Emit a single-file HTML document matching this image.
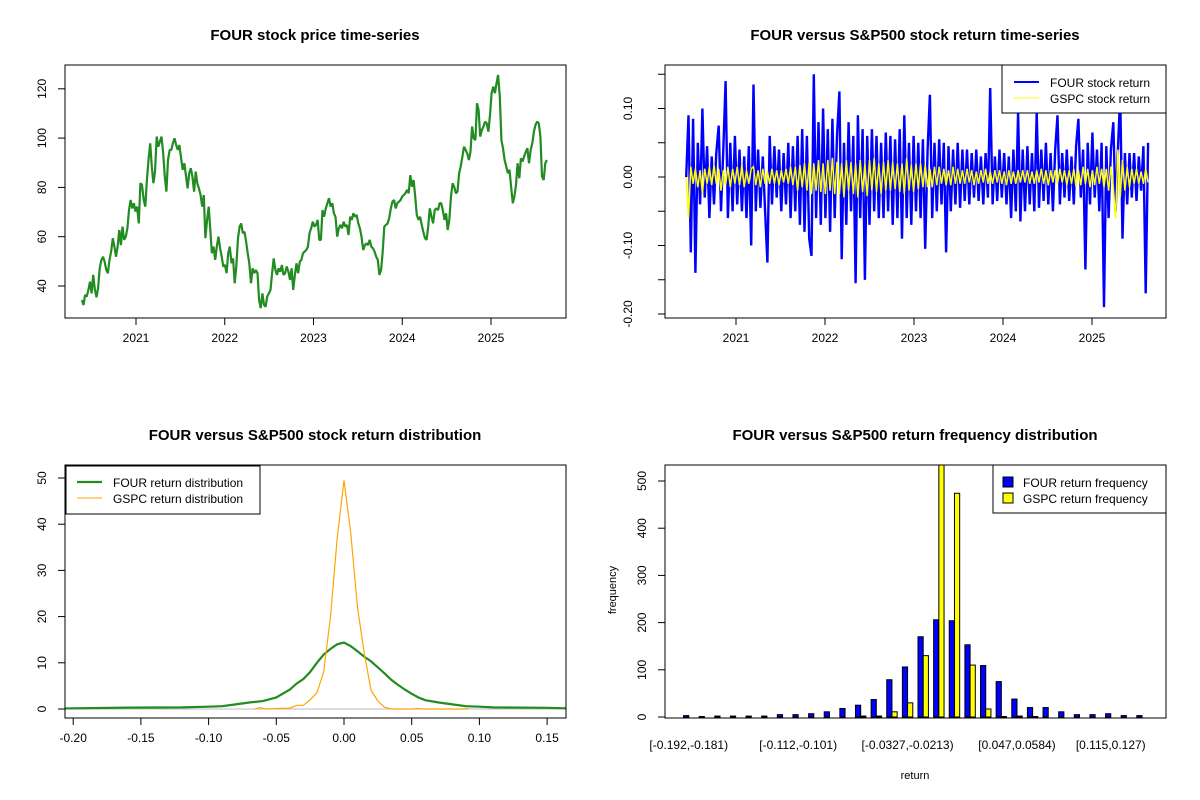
<!DOCTYPE html>
<html><head><meta charset="utf-8"><style>
html,body{margin:0;padding:0;background:#fff}
svg{display:block;font-family:"Liberation Sans",Arial,sans-serif}
</style></head><body>
<svg id="s" width="1200" height="800" viewBox="0 0 1200 800"></svg>
<script>
// ---------- DATA ----------
const priceValues=[34.3,32.3,36.4,35.7,38.4,41.8,37.0,44.5,38.4,35.4,39.1,47.2,50.6,51.9,49.9,46.5,45.2,50.6,53.9,59.4,56.0,51.9,56.0,62.7,56.6,64.1,58.7,60.0,63.4,70.8,74.9,71.5,73.6,70.2,72.2,65.4,81.7,81.0,74.9,72.2,83.0,91.1,97.9,88.4,81.7,86.4,100.6,96.5,98.6,100.6,93.8,84.4,78.3,91.1,95.2,95.2,97.9,99.9,97.2,95.2,97.2,91.8,87.1,89.8,85.0,79.6,85.7,87.8,84.4,78.3,86.4,81.7,79.6,76.9,72.2,76.9,59.4,66.8,72.2,62.7,53.3,56.0,50.6,56.0,60.0,55.3,51.9,47.9,48.5,45.2,53.3,56.0,49.2,51.2,41.1,47.9,59.4,64.1,65.4,61.4,62.0,58.0,53.3,49.2,41.1,47.2,45.2,46.5,45.2,34.3,31.0,37.0,32.3,31.6,35.7,37.0,38.4,45.2,51.2,46.5,44.5,47.2,45.8,48.5,44.5,45.2,47.9,45.8,42.5,47.2,38.4,44.5,49.2,45.2,49.9,50.6,53.3,53.9,54.6,56.0,61.4,63.4,66.1,64.1,64.8,66.8,58.7,58.7,70.8,68.1,71.5,73.6,75.6,72.2,73.6,69.5,68.1,60.0,63.4,64.8,63.4,66.1,64.1,64.8,60.7,68.1,66.8,69.5,68.1,68.8,65.4,63.4,60.0,54.6,56.6,57.3,56.6,58.7,56.0,55.3,53.9,51.9,50.6,44.5,46.5,53.9,64.1,64.8,65.4,67.5,71.5,74.2,74.9,71.5,73.6,74.2,74.9,76.3,76.9,77.6,79.0,77.6,85.0,80.3,83.0,76.3,68.8,66.8,68.1,64.8,62.0,59.4,58.7,64.1,71.5,68.1,65.4,70.8,71.5,70.8,73.6,73.6,70.8,66.8,69.5,62.7,66.8,76.3,81.7,80.3,77.6,78.3,85.7,88.4,92.5,96.5,95.2,93.8,91.1,94.5,104.7,99.9,99.2,114.1,111.4,100.6,103.3,104.7,106.7,106.0,102.6,109.4,118.2,120.9,118.2,122.2,125.6,116.8,99.2,95.9,91.1,88.4,85.7,87.1,80.3,73.6,76.3,81.0,89.8,83.7,91.8,90.5,92.5,94.5,95.9,89.8,95.2,97.9,102.6,105.3,106.7,106.0,100.6,84.4,83.0,89.8,91.1];
const priceStart=2020.39, priceEnd=2025.63;
const priceYTicks=[40,60,80,100,120];
const yearTicks=[2021,2022,2023,2024,2025];

const fourReturns=[0.00,0.09,-0.11,0.085,-0.14,0.05,-0.04,0.10,-0.03,0.045,-0.06,0.03,-0.04,0.035,0.075,-0.05,0.04,0.14,-0.06,0.05,
-0.05,0.06,-0.04,0.04,-0.05,0.03,-0.06,0.045,-0.10,0.135,-0.05,0.04,-0.045,0.03,-0.05,-0.125,0.06,-0.04,0.045,-0.03,
0.04,-0.05,0.035,-0.04,0.05,-0.06,0.045,-0.05,0.06,-0.07,0.07,-0.08,0.06,-0.09,-0.115,0.15,-0.06,0.08,-0.07,0.10,
-0.06,0.07,-0.08,0.085,-0.06,0.06,0.125,-0.12,0.05,-0.07,0.08,-0.05,0.06,-0.155,0.09,-0.06,0.07,-0.15,0.06,-0.07,
0.07,-0.05,0.06,-0.06,0.05,-0.06,0.065,-0.05,0.06,-0.07,0.055,-0.06,0.07,-0.09,0.09,-0.06,0.05,-0.07,0.06,-0.05,
0.05,-0.06,0.055,-0.105,0.04,0.12,-0.06,0.05,-0.05,0.055,-0.04,0.05,-0.11,0.045,-0.05,0.04,-0.04,0.05,-0.045,0.04,
-0.035,0.04,-0.04,0.035,-0.03,0.04,-0.035,0.03,-0.04,0.035,-0.03,0.13,-0.04,0.03,-0.035,0.04,-0.03,0.035,-0.04,0.03,
-0.06,0.04,-0.05,0.095,-0.065,0.04,-0.05,0.045,-0.04,0.035,-0.05,0.095,-0.045,0.04,-0.035,0.05,-0.04,0.035,-0.05,0.04,
0.09,-0.04,0.035,-0.03,0.04,-0.035,0.03,-0.04,0.045,0.085,-0.03,0.04,-0.135,0.05,-0.04,0.065,-0.03,0.04,-0.05,0.05,
-0.19,0.045,-0.06,0.04,0.08,-0.05,0.04,0.12,-0.09,0.035,-0.04,0.035,-0.03,0.035,-0.035,0.03,-0.02,0.045,-0.17,0.05];
const gspcReturns=[0.00,-0.06,0.015,-0.01,0.012,-0.015,0.01,-0.025,0.012,-0.01,0.015,-0.012,0.018,-0.01,0.012,-0.02,0.01,-0.012,0.015,-0.015,
0.012,-0.01,0.015,-0.012,0.018,-0.015,0.01,-0.01,0.012,0.015,-0.012,0.01,-0.015,0.012,-0.01,0.008,-0.01,0.012,-0.01,0.01,
-0.012,0.01,-0.008,0.012,-0.01,0.015,-0.012,0.015,-0.02,0.018,-0.015,0.02,-0.02,0.022,-0.025,0.02,-0.02,0.025,-0.022,0.02,
-0.025,0.025,-0.02,0.028,-0.025,0.022,-0.025,0.02,-0.03,0.025,-0.02,0.022,-0.025,0.02,-0.03,0.025,-0.022,0.02,-0.028,0.025,
-0.02,0.028,-0.022,0.02,-0.025,0.022,-0.02,0.025,-0.02,0.022,-0.018,0.02,-0.022,0.02,-0.025,0.028,-0.02,0.018,-0.022,0.02,
-0.018,0.02,-0.015,0.018,-0.015,0.012,-0.015,0.015,-0.012,0.015,-0.01,0.012,-0.012,0.01,-0.012,0.015,-0.01,0.012,-0.01,0.01,
-0.01,0.012,-0.008,0.01,-0.012,0.008,-0.01,0.01,-0.008,0.012,-0.01,0.008,-0.01,0.01,-0.008,0.01,-0.01,0.008,-0.012,0.01,
-0.01,0.008,-0.01,0.01,-0.008,0.01,-0.008,0.01,-0.01,0.008,-0.01,0.01,-0.008,0.012,-0.01,0.01,-0.012,0.01,-0.008,0.01,
-0.01,0.012,-0.008,0.01,-0.012,0.01,-0.01,0.012,-0.015,0.01,-0.012,0.015,-0.01,0.012,-0.015,0.01,-0.012,0.015,-0.01,0.012,
-0.015,0.012,-0.02,0.015,-0.015,-0.06,0.04,-0.03,0.025,-0.02,0.015,-0.015,0.012,-0.01,0.012,-0.01,0.008,-0.01,0.012,-0.008];
const returnStart=2020.44, returnEnd=2025.63;
const returnYTicks=[-0.20,-0.15,-0.10,-0.05,0.00,0.05,0.10,0.15];
const returnYLabels=["-0.20","","-0.10","","0.00","","0.10",""];

const densX=[-0.21,-0.16,-0.12,-0.10,-0.09,-0.08,-0.07,-0.06,-0.05,-0.04,-0.035,-0.03,-0.025,-0.02,-0.015,-0.01,-0.005,0.0,0.005,0.01,0.015,0.02,0.025,0.03,0.035,0.04,0.045,0.05,0.055,0.06,0.07,0.08,0.09,0.10,0.11,0.15,0.17];
const fourDens=[0.1,0.3,0.35,0.5,0.6,1.0,1.4,1.7,2.5,4.2,5.5,6.5,8.0,10.0,11.8,13.0,14.0,14.4,13.6,12.5,11.3,10.3,9.0,7.7,6.3,5.2,4.2,3.3,2.5,1.9,1.4,1.0,0.6,0.5,0.35,0.25,0.1];
const gspcDensX=[-0.066,-0.062,-0.058,-0.05,-0.04,-0.035,-0.03,-0.025,-0.02,-0.015,-0.01,-0.005,0.0,0.005,0.01,0.015,0.02,0.025,0.03,0.035,0.05,0.055,0.057,0.088,0.09,0.092];
const gspcDens=[0,0.3,0,0.1,0.2,0.8,0.8,2.0,3.5,8.0,20,37,49.5,38,22,12,4,1.7,0.4,0,0,0.1,0,0,0.1,0];
const densXTicks=[-0.20,-0.15,-0.10,-0.05,0.00,0.05,0.10,0.15];
const densYTicks=[0,10,20,30,40,50];

const binLabels=["[-0.192,-0.181)","[-0.181,-0.169)","[-0.169,-0.158)","[-0.158,-0.147)","[-0.147,-0.135)","[-0.135,-0.124)","[-0.124,-0.112)","[-0.112,-0.101)","[-0.101,-0.0895)","[-0.0895,-0.0781)","[-0.0781,-0.0668)","[-0.0668,-0.0554)","[-0.0554,-0.044)","[-0.044,-0.0327)","[-0.0327,-0.0213)","[-0.0213,-0.00995)","[-0.00995,0.00142)","[0.00142,0.0128)","[0.0128,0.0242)","[0.0242,0.0356)","[0.0356,0.047)","[0.047,0.0584)","[0.0584,0.0697)","[0.0697,0.0811)","[0.0811,0.0925)","[0.0925,0.104)","[0.104,0.115)","[0.115,0.127)","[0.127,0.138)","[0.138,0.149]"];
const shownBins=[0,7,14,21,27];
const fourFreq=[3,1,2,2,2,2,5,5,7,11,18,25,37,79,106,170,206,204,153,109,75,38,20,20,11,5,5,7,3,3];
const gspcFreq=[0,0,0,0,0,0,0,0,0,0,0,2,2,11,30,130,560,474,110,17,1,2,1,0,0,0,0,0,0,0];
const freqTicks=[0,100,200,300,400,500];

// ---------- helpers ----------
const svg=document.getElementById('s');
const NS='http://www.w3.org/2000/svg';
function mk(tag,attrs,parent){const e=document.createElementNS(NS,tag);for(const k in attrs)e.setAttribute(k,attrs[k]);(parent||svg).appendChild(e);return e;}
function txt(x,y,s,size,anchor,extra){const e=mk('text',Object.assign({x:x,y:y,'font-size':size,'text-anchor':anchor||'middle',fill:'#000'},extra||{}));e.textContent=s;return e;}
function vtxt(x,y,s,size){const e=mk('text',{x:0,y:0,'font-size':size,'text-anchor':'middle',fill:'#000',transform:`translate(${x},${y}) rotate(-90)`});e.textContent=s;return e;}

// ===== Panel 1: price =====
const P1={l:65,r:566,t:65,b:318};
const pyr=y=>136+(y-2021)*88.75;
const pyv=v=>286-(v-40)*49.3/20;
let e=txt(315,40,'FOUR stock price time-series',15,'middle',{'font-weight':'bold'});


e=mk('rect',{x:P1.l,y:P1.t,width:P1.r-P1.l,height:P1.b-P1.t,fill:'none',stroke:'#000'});


{let pts=priceValues.map((v,i)=>{const yr=priceStart+(priceEnd-priceStart)*i/(priceValues.length-1);return pyr(yr).toFixed(1)+','+pyv(v).toFixed(1);}).join(' ');
e=mk('polyline',{points:pts,fill:'none',stroke:'#228B22','stroke-width':2.2,'stroke-linejoin':'bevel'});

}
mk('line',{x1:P1.l,x2:P1.l,y1:pyv(priceYTicks[0]),y2:pyv(priceYTicks[priceYTicks.length-1]),stroke:'#000'});
priceYTicks.forEach(v=>{mk('line',{x1:P1.l-7,x2:P1.l,y1:pyv(v),y2:pyv(v),stroke:'#000'});
e=vtxt(P1.l-19,pyv(v),String(v),12);

});
mk('line',{x1:pyr(yearTicks[0]),x2:pyr(yearTicks[yearTicks.length-1]),y1:P1.b,y2:P1.b,stroke:'#000'});
yearTicks.forEach(y=>{mk('line',{x1:pyr(y),x2:pyr(y),y1:P1.b,y2:P1.b+7,stroke:'#000'});
e=txt(pyr(y),P1.b+24,String(y),12);

});

// ===== Panel 2: returns =====
const P2={l:665,r:1166,t:65,b:318};
const ryr=y=>736+(y-2021)*89;
const ryv=v=>177-v*685;
e=txt(915,40,'FOUR versus S&P500 stock return time-series',15,'middle',{'font-weight':'bold'});


function rline(arr,color,w,name){const pts=arr.map((v,i)=>{const yr=returnStart+(returnEnd-returnStart)*i/(arr.length-1);return ryr(yr).toFixed(1)+','+ryv(v).toFixed(1);}).join(' ');
const el=mk('polyline',{points:pts,fill:'none',stroke:color,'stroke-width':w,'stroke-linejoin':'miter'});

}
rline(fourReturns,'#0000FF',2.4,'four-return-line');
rline(gspcReturns,'#FFFF00',1.5,'gspc-return-line');
mk('rect',{x:P2.l,y:P2.t,width:P2.r-P2.l,height:P2.b-P2.t,fill:'none',stroke:'#000'});
mk('line',{x1:P2.l,x2:P2.l,y1:ryv(-0.20),y2:ryv(0.15),stroke:'#000'});
returnYTicks.forEach((v,i)=>{mk('line',{x1:P2.l-7,x2:P2.l,y1:ryv(v),y2:ryv(v),stroke:'#000'});
if(returnYLabels[i]){e=vtxt(P2.l-33,ryv(v),returnYLabels[i],12);

}});
mk('line',{x1:ryr(2021),x2:ryr(2025),y1:P2.b,y2:P2.b,stroke:'#000'});
yearTicks.forEach(y=>{mk('line',{x1:ryr(y),x2:ryr(y),y1:P2.b,y2:P2.b+7,stroke:'#000'});
e=txt(ryr(y),P2.b+24,String(y),12);

});
e=mk('rect',{x:1002,y:65,width:164,height:48,fill:'#fff',stroke:'#000'});


mk('line',{x1:1014,x2:1039,y1:82,y2:82,stroke:'#0000FF','stroke-width':2});
e=txt(1050,87,'FOUR stock return',12,'start');


mk('line',{x1:1014,x2:1039,y1:98,y2:98,stroke:'#FFFF00','stroke-width':1});
e=txt(1050,103,'GSPC stock return',12,'start');



// ===== Panel 3: density =====
const P3={l:65,r:566,t:465,b:718};
const dx=v=>344+v*1354;
const dy=v=>709-v*4.62;
e=txt(315,440,'FOUR versus S&P500 stock return distribution',15,'middle',{'font-weight':'bold'});


mk('defs',{}).innerHTML='<clipPath id="c3"><rect x="65" y="465" width="501" height="253"/></clipPath>';
const g3=mk('g',{'clip-path':'url(#c3)'});
mk('line',{x1:P3.l,x2:P3.r,y1:dy(0),y2:dy(0),stroke:'#BEBEBE'},g3);
e=mk('polyline',{points:densX.map((x,i)=>dx(x).toFixed(1)+','+dy(fourDens[i]).toFixed(1)).join(' '),fill:'none',stroke:'#228B22','stroke-width':2.2},g3);


e=mk('polyline',{points:gspcDensX.map((x,i)=>dx(x).toFixed(1)+','+dy(gspcDens[i]).toFixed(1)).join(' '),fill:'none',stroke:'#FFA500','stroke-width':1.2},g3);


mk('rect',{x:P3.l,y:P3.t,width:P3.r-P3.l,height:P3.b-P3.t,fill:'none',stroke:'#000'});
mk('line',{x1:P3.l,x2:P3.l,y1:dy(0),y2:dy(50),stroke:'#000'});
densYTicks.forEach(v=>{mk('line',{x1:P3.l-7,x2:P3.l,y1:dy(v),y2:dy(v),stroke:'#000'});
e=vtxt(P3.l-19,dy(v),String(v),12);

});
mk('line',{x1:dx(-0.20),x2:dx(0.15),y1:P3.b,y2:P3.b,stroke:'#000'});
densXTicks.forEach(v=>{mk('line',{x1:dx(v),x2:dx(v),y1:P3.b,y2:P3.b+7,stroke:'#000'});
e=txt(dx(v),P3.b+24,v.toFixed(2),12);

});
e=mk('rect',{x:66,y:466,width:194,height:48,fill:'#fff',stroke:'#000'});


mk('line',{x1:77,x2:102,y1:482,y2:482,stroke:'#228B22','stroke-width':2.2});
e=txt(113,487,'FOUR return distribution',12,'start');


mk('line',{x1:77,x2:102,y1:498,y2:498,stroke:'#FFA500','stroke-width':1});
e=txt(113,503,'GSPC return distribution',12,'start');



// ===== Panel 4: histogram =====
const P4={l:665,r:1166,t:465,b:718};
const bu=u=>665+(u+2.56)*5.21;
const by=v=>717-v*0.472;
e=txt(915,440,'FOUR versus S&P500 return frequency distribution',15,'middle',{'font-weight':'bold'});


mk('defs',{}).innerHTML='<clipPath id="c4"><rect x="665" y="465" width="501" height="253"/></clipPath>';
const g4=mk('g',{'clip-path':'url(#c4)'});
fourFreq.forEach((v,i)=>{const u=3*i+1;
const r=mk('rect',{x:bu(u),y:by(v),width:bu(u+1)-bu(u),height:Math.max(0,by(0)-by(v)),fill:'#0000FF',stroke:'#000','stroke-width':1},g4);

});
gspcFreq.forEach((v,i)=>{const u=3*i+2;
const r=mk('rect',{x:bu(u),y:by(v),width:bu(u+1)-bu(u),height:Math.max(0,by(0)-by(v)),fill:'#FFFF00',stroke:'#000','stroke-width':1},g4);

});
mk('rect',{x:P4.l,y:P4.t,width:P4.r-P4.l,height:P4.b-P4.t,fill:'none',stroke:'#000'});
mk('line',{x1:P4.l,x2:P4.l,y1:by(0),y2:by(500),stroke:'#000'});
freqTicks.forEach(v=>{mk('line',{x1:P4.l-7,x2:P4.l,y1:by(v),y2:by(v),stroke:'#000'});
e=vtxt(P4.l-19,by(v),String(v),12);

});
shownBins.forEach(i=>{e=txt(bu(3*i+2),P4.b+31,binLabels[i],12);

});
e=vtxt(616,590,'frequency',11);


e=txt(915,779,'return',11);


e=mk('rect',{x:993,y:465,width:173,height:48,fill:'#fff',stroke:'#000'});


mk('rect',{x:1003,y:477,width:10,height:10,fill:'#0000FF',stroke:'#000'});
e=txt(1023,487,'FOUR return frequency',12,'start');


mk('rect',{x:1003,y:493,width:10,height:10,fill:'#FFFF00',stroke:'#000'});
e=txt(1023,503,'GSPC return frequency',12,'start');


</script>
</body></html>
